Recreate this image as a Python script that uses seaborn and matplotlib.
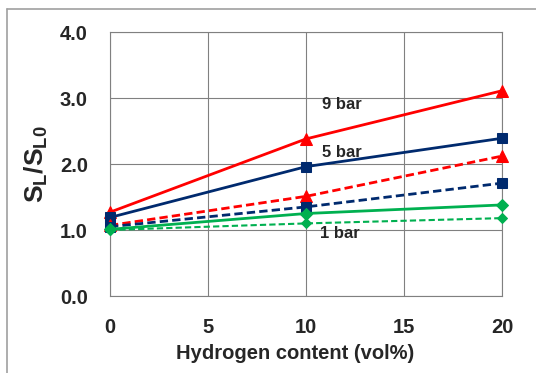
import matplotlib
matplotlib.use("Agg")
import matplotlib.pyplot as plt
import seaborn as sns
import pandas as pd
from matplotlib.lines import Line2D

sns.set_style("white")
plt.rcParams['font.family'] = ['Liberation Sans', 'DejaVu Sans']
plt.rcParams['mathtext.fontset'] = 'custom'
plt.rcParams['mathtext.rm'] = 'Liberation Sans'
plt.rcParams['mathtext.bf'] = 'Liberation Sans:bold'
plt.rcParams['mathtext.it'] = 'Liberation Sans:italic'

hydrogen = [0, 10, 20]
s9_solid = [1.27, 2.38, 3.11]
s5_solid = [1.19, 1.96, 2.39]
s9_dash = [1.07, 1.51, 2.12]
s5_dash = [1.05, 1.35, 1.71]
s1_solid = [1.01, 1.25, 1.38]
s1_dash = [1.00, 1.10, 1.18]

x_ticks = [0, 5, 10, 15, 20]
y_ticks = [0.0, 1.0, 2.0, 3.0, 4.0]

series = [
    (s9_solid, '#FF0000', '^', '-', 8),
    (s5_solid, '#002A6E', 's', '-', 6.5),
    (s9_dash, '#FF0000', '^', '--', 8),
    (s5_dash, '#002A6E', 's', '--', 6.5),
    (s1_solid, '#00B050', 'D', '-', 6),
    (s1_dash, '#00B050', 'D', '--', 5.5),
]

fig = plt.figure(figsize=(5.36, 3.73), dpi=100)
ax = fig.add_axes([0.2052, 0.2064, 0.7313, 0.7078])

for vals, col, mk, ls, ms in series:
    df = pd.DataFrame({'x': hydrogen, 'y': vals})
    lw = 2.0
    if col == '#00B050' and ls == '--':
        lw = 1.5
    sns.lineplot(data=df, x='x', y='y', ax=ax, color=col, marker=mk,
                 linestyle=ls, linewidth=lw, markersize=ms,
                 markeredgecolor=col, markerfacecolor=col, zorder=3,
                 clip_on=False)

for ln in ax.get_lines():
    if ln.get_linestyle() == '--':
        ln.set_dashes((3, 1.5))

ax.set_xlim(0, 20)
ax.set_ylim(0, 4)
ax.set_xticks(x_ticks)
ax.set_yticks(y_ticks)
ax.set_xticklabels([str(t) for t in x_ticks], fontsize=14.5, fontweight='bold')
ax.set_yticklabels([f"{t:.1f}" for t in y_ticks], fontsize=14.5, fontweight='bold')
ax.grid(True, color='#808080', linewidth=0.8)
for sp in ax.spines.values():
    sp.set_color('#808080')
    sp.set_linewidth(0.8)
ax.tick_params(axis='both', direction='out', length=6, width=0.8, color='#808080')
ax.tick_params(axis='x', pad=10)
ax.tick_params(axis='y', pad=10)

ax.set_xlabel('Hydrogen content (vol%)', fontsize=14.5, fontweight='bold')
ax.xaxis.set_label_coords(0.472, -0.182)
ax.set_ylabel(r'$\mathbf{S_L/S_{L0}}$', fontsize=19, labelpad=7)

ax.text(10.8, 2.9, '9 bar', fontsize=12, fontweight='bold', va='center', ha='left')
ax.text(10.8, 2.17, '5 bar', fontsize=12, fontweight='bold', va='center', ha='left')
ax.text(10.7, 0.94, '1 bar', fontsize=12, fontweight='bold', va='center', ha='left')

# outer frame lines (top and left)
fig.add_artist(Line2D([7/536, 1.0], [1 - 9/373, 1 - 9/373], color='#A0A0A0', linewidth=1.2, transform=fig.transFigure))
fig.add_artist(Line2D([7/536, 7/536], [0.0, 1 - 9/373], color='#A0A0A0', linewidth=1.2, transform=fig.transFigure))

fig.savefig('out.png', dpi=100)
